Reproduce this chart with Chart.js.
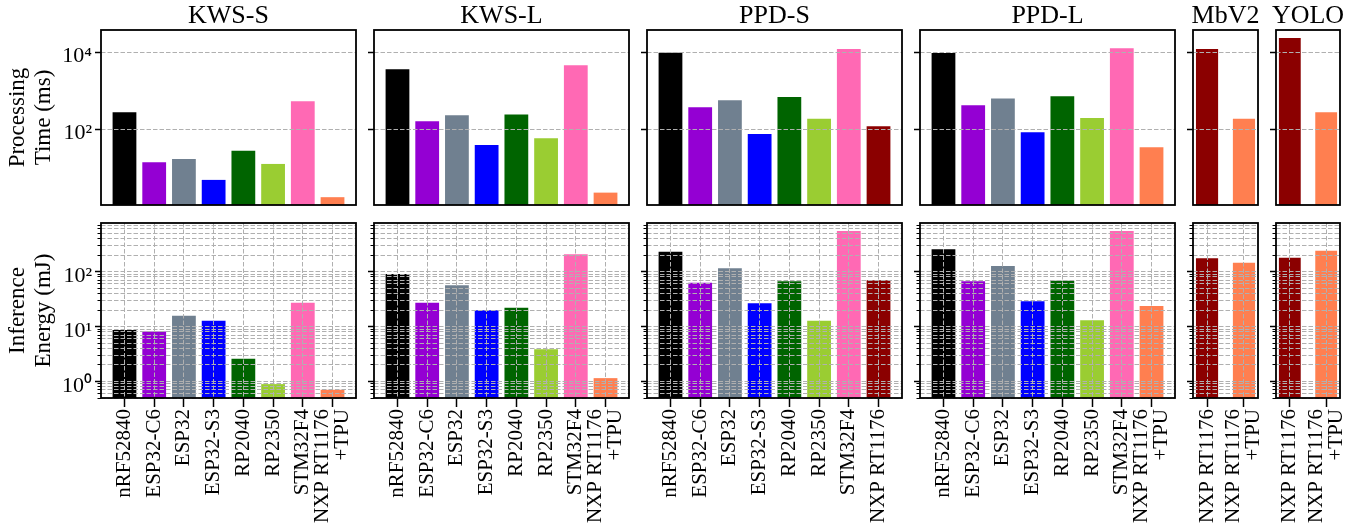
<!DOCTYPE html>
<html><head><meta charset="utf-8">
<script src="https://cdn.jsdelivr.net/npm/chart.js@4.4.0/dist/chart.umd.min.js"></script>
<style>
html,body{margin:0;padding:0;background:#fff;}
#wrap{position:relative;width:1359px;height:527px;overflow:hidden;background:#fff;}
canvas{position:absolute;}
</style></head><body><div id="wrap"></div>
<script>
// ---------- data ----------
const panelTitles = ['KWS-S', 'KWS-L', 'PPD-S', 'PPD-L', 'MbV2', 'YOLO'];
const boardsTPU = ['nRF52840', 'ESP32-C6', 'ESP32', 'ESP32-S3', 'RP2040', 'RP2350', 'STM32F4', ['NXP RT1176', '+TPU']];
const boardsNXP = ['nRF52840', 'ESP32-C6', 'ESP32', 'ESP32-S3', 'RP2040', 'RP2350', 'STM32F4', 'NXP RT1176'];
const boardsLarge = ['NXP RT1176', ['NXP RT1176', '+TPU']];
const colorsTPU = ['#000000', '#9400d3', '#708090', '#0000ff', '#006400', '#9acd32', '#ff69b4', '#ff7f50'];
const colorsNXP = ['#000000', '#9400d3', '#708090', '#0000ff', '#006400', '#9acd32', '#ff69b4', '#8b0000'];
const colorsLarge = ['#8b0000', '#ff7f50'];

// Processing time (ms)
const timeKWS_S = [278, 13.7, 16.8, 4.75, 27.6, 12.4, 538, 1.68];
const timeKWS_L = [3690, 162, 232, 38.9, 241, 58.2, 4690, 2.21];
const timePPD_S = [9900, 375, 571, 75.4, 697, 189, 12500, 120];
const timePPD_L = [9800, 424, 630, 83.6, 728, 197, 13000, 33.9];
const timeMbV2 = [12500, 189];
const timeYOLO = [24200, 278];

// Inference energy (mJ)
const energyKWS_S = [8.7, 8.1, 15.7, 12.7, 2.59, 0.895, 27.3, 0.706];
const energyKWS_L = [90.8, 27.3, 56.6, 19.9, 22.1, 3.88, 207, 1.15];
const energyPPD_S = [231, 63, 115, 26.6, 66.8, 12.7, 550, 69.8];
const energyPPD_L = [255, 66.8, 127, 29, 68.5, 13.1, 550, 23.8];
const energyMbV2 = [175, 146];
const energyYOLO = [180, 241];

// tick values / labels
const timeTicks = [100, 10000];
const energyMajorTicks = [1, 10, 100];
const energyMinorTicks = [0.5, 0.6, 0.7, 0.8, 0.9, 2, 3, 4, 5, 6, 7, 8, 9, 20, 30, 40, 50, 60, 70, 80, 90, 200, 300, 400, 500, 600, 700];
const tickLabelMap = {1: '10\u2070', 10: '10\u00b9', 100: '10\u00b2', 10000: '10\u2074'};
const timeAxisTitle = ['Processing', 'Time (ms)'];
const energyAxisTitle = ['Inference', 'Energy (mJ)'];

// ---------- layout ----------
const plotLeft = [101, 374, 647, 920, 1193, 1276];
const plotWidth = [255, 255, 255, 255, 65, 64];
const GRID = '#b0b0b0';
const DASH = [4.5, 2];

Chart.defaults.font.family = 'Liberation Serif';
Chart.defaults.color = '#000';
Chart.defaults.animation = false;

const wrap = document.getElementById('wrap');
function makeCanvas(left, top, w, h) {
  const c = document.createElement('canvas');
  c.width = w; c.height = h;
  c.style.left = left + 'px'; c.style.top = top + 'px';
  c.style.width = w + 'px'; c.style.height = h + 'px';
  wrap.appendChild(c);
  return c.getContext('2d');
}
function zeroPad(s) { s.paddingTop = 0; s.paddingBottom = 0; s.paddingLeft = 0; s.paddingRight = 0; }

const framePlugin = {
  id: 'frame',
  afterDraw(chart) {
    const {ctx, chartArea: a} = chart;
    ctx.save();
    ctx.strokeStyle = '#000';
    ctx.lineWidth = 1.8;
    ctx.strokeRect(a.left, a.top, a.right - a.left, a.bottom - a.top);
    ctx.restore();
  }
};

const panels = [
  {title: panelTitles[0], labels: boardsTPU, colors: colorsTPU, time: timeKWS_S, energy: energyKWS_S},
  {title: panelTitles[1], labels: boardsTPU, colors: colorsTPU, time: timeKWS_L, energy: energyKWS_L},
  {title: panelTitles[2], labels: boardsNXP, colors: colorsNXP, time: timePPD_S, energy: energyPPD_S},
  {title: panelTitles[3], labels: boardsTPU, colors: colorsTPU, time: timePPD_L, energy: energyPPD_L},
  {title: panelTitles[4], labels: boardsLarge, colors: colorsLarge, time: timeMbV2, energy: energyMbV2},
  {title: panelTitles[5], labels: boardsLarge, colors: colorsLarge, time: timeYOLO, energy: energyYOLO},
];

function dummyRight(L) {
  return {type: 'linear', axis: 'y', position: 'right', display: true,
    grid: {display: false, drawTicks: false}, border: {display: false}, ticks: {display: false},
    afterFit: s => { s.width = L; zeroPad(s); }};
}

function drawPanel(p, col, row) {
  const L = col === 0 ? 101 : 14;
  const W = plotWidth[col] + 2 * L;
  const n = p.labels.length;
  const small = n === 2;
  const pad = small ? 0.38 : 0.79;
  const xmin = -pad, xmax = n - 1 + pad;
  const values = row === 0 ? p.time : p.energy;
  const idxTicks = s => { s.ticks = p.labels.map((l, i) => ({value: i})); };
  const dataset = {
    data: values.map((v, i) => ({x: i, y: v})),
    backgroundColor: p.colors, borderWidth: 0,
    barPercentage: small ? 0.6 : 0.8, categoryPercentage: 1,
    xAxisID: 'x', yAxisID: 'y'
  };
  let ctx, scales, layoutPad, title;
  if (row === 0) {
    ctx = makeCanvas(plotLeft[col] - L, 0, W, 210);
    layoutPad = {top: 0, bottom: 5, left: 0, right: 0};
    title = {display: true, text: p.title, color: '#000', font: {size: 26, weight: 'normal', lineHeight: 1}, padding: {top: 3, bottom: 1}};
    scales = {
      x: {type: 'linear', axis: 'x', offset: false, min: xmin, max: xmax, display: false, afterBuildTicks: idxTicks,
        grid: {offset: false}},
      y: {type: 'logarithmic', axis: 'y', position: 'left', min: 1.05, max: 39000,
        afterBuildTicks: s => { s.ticks = timeTicks.map(v => ({value: v, major: true})); },
        afterFit: s => { s.width = L; zeroPad(s); },
        grid: {color: GRID, lineWidth: 1, z: 1, tickColor: '#000', tickLength: 6, tickWidth: 1.5, tickBorderDash: []},
        border: {display: false, dash: DASH},
        ticks: {display: col === 0, callback: v => tickLabelMap[v] || '', font: {size: 22}, padding: 3, labelOffset: 4},
        title: {display: col === 0, text: timeAxisTitle, font: {size: 23, lineHeight: 1.13}, padding: {top: 5, bottom: 0}}},
      yr: dummyRight(L)
    };
  } else {
    ctx = makeCanvas(plotLeft[col] - L, 218, W, 309);
    layoutPad = {top: 5, bottom: 0, left: 0, right: 0};
    title = {display: false};
    const spacing = plotWidth[col] / (xmax - xmin);
    const shift = 10 / spacing;
    scales = {
      x: {type: 'linear', axis: 'x', position: 'bottom', weight: 0, offset: false, min: xmin, max: xmax,
        afterBuildTicks: idxTicks,
        afterFit: s => { s.height = 9; zeroPad(s); },
        grid: {offset: false, color: GRID, lineWidth: 1, z: 1, tickColor: '#000', tickLength: 9, tickWidth: 1.5, tickBorderDash: []},
        border: {display: false, dash: DASH},
        ticks: {display: false}},
      xl: {type: 'linear', axis: 'x', position: 'bottom', weight: 1, offset: false, min: xmin, max: xmax,
        afterBuildTicks: s => { s.ticks = p.labels.map((l, i) => ({value: Array.isArray(l) ? i - shift : i})); },
        afterFit: s => { s.height = 120; zeroPad(s); },
        grid: {display: false, drawTicks: false, offset: false}, border: {display: false},
        ticks: {autoSkip: false, minRotation: 90, maxRotation: 90, padding: 2,
          font: {size: 21, lineHeight: '20px'}, callback: (v, i) => p.labels[i]}},
      y: {type: 'logarithmic', axis: 'y', position: 'left', weight: 1, min: 0.5, max: 770,
        afterBuildTicks: s => { s.ticks = energyMajorTicks.map(v => ({value: v, major: true})); },
        afterFit: s => { s.width = L; zeroPad(s); },
        grid: {color: GRID, lineWidth: 1, z: 1, tickColor: '#000', tickLength: 6, tickWidth: 1.5, tickBorderDash: []},
        border: {display: false, dash: DASH},
        ticks: {display: col === 0, callback: v => tickLabelMap[v] || '', font: {size: 22}, padding: 3, labelOffset: 5},
        title: {display: col === 0, text: energyAxisTitle, font: {size: 23, lineHeight: 1.13}, padding: {top: 5, bottom: 0}}},
      y2: {type: 'logarithmic', axis: 'y', position: 'left', weight: 0, min: 0.5, max: 770,
        afterBuildTicks: s => { s.ticks = energyMinorTicks.map(v => ({value: v})); },
        afterFit: s => { s.width = 0; zeroPad(s); },
        grid: {color: GRID, lineWidth: 1, z: 1, tickColor: '#000', tickLength: 3.5, tickWidth: 1, tickBorderDash: []},
        border: {display: false, dash: DASH},
        ticks: {display: false}},
      yr: dummyRight(L)
    };
  }
  new Chart(ctx, {
    type: 'bar',
    data: {datasets: [dataset]},
    options: {
      responsive: false, animation: false, events: [],
      layout: {padding: layoutPad},
      plugins: {legend: {display: false}, tooltip: {enabled: false}, title: title},
      scales: scales
    },
    plugins: [framePlugin]
  });
}

panels.forEach((p, col) => { drawPanel(p, col, 0); drawPanel(p, col, 1); });
</script>
</body></html>
